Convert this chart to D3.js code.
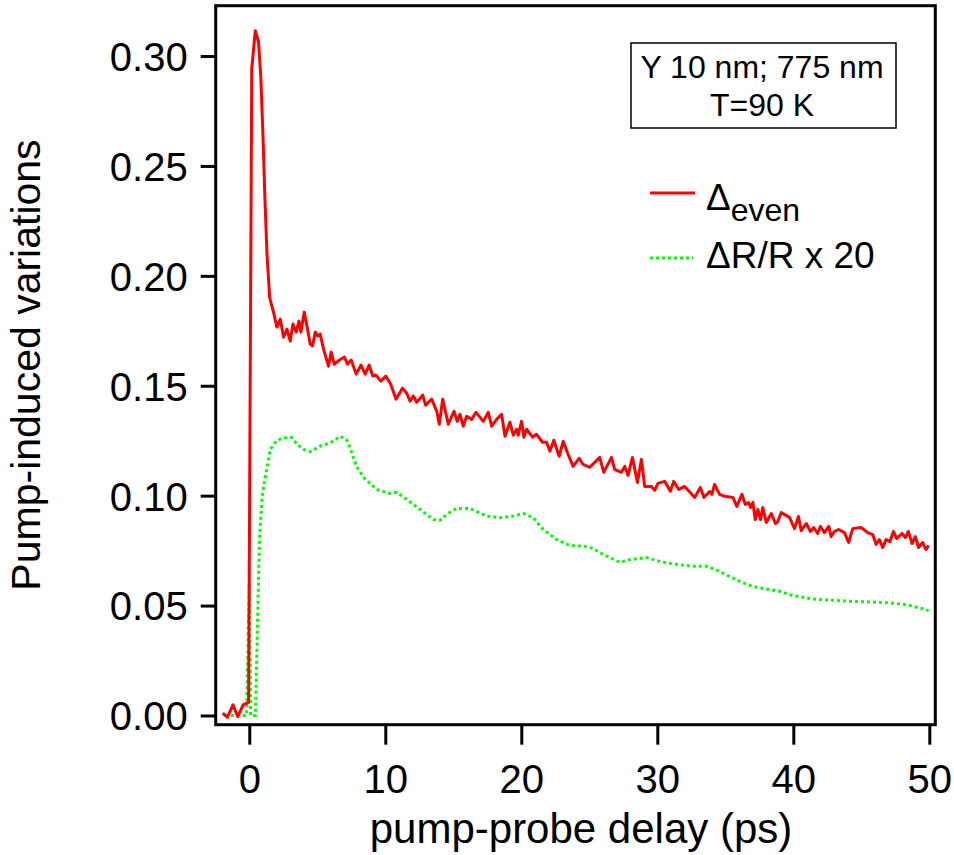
<!DOCTYPE html>
<html>
<head>
<meta charset="utf-8">
<script src="https://cdn.jsdelivr.net/npm/d3@7"></script>
<style>
  body { margin: 0; background: #fff; }
  svg text { font-family: "Liberation Sans", Arial, sans-serif; fill: #000; }
</style>
</head>
<body>
<div id="vis"></div>
<script>
const W = 954, H = 855;
const frame = {left: 215.7, right: 935.3, top: 5.7, bottom: 724.7};

// delta_even (red), delay in ps
const evenDelay = [-1.95, -1.6, -1.2, -0.85, -0.45, -0.05, 0.18, 0.44, 0.68, 0.85, 1.0, 1.15, 1.3, 1.5, 1.78, 2.03,
  2.28, 2.52, 2.77, 3.01, 3.21, 3.45, 3.65, 3.80, 4.04, 4.24, 4.48, 4.65, 4.85, 5.04, 5.21, 5.46, 5.82, 6.02, 6.24,
  6.63, 7.00, 7.22, 7.49, 7.86, 8.22, 8.52, 8.81, 9.08, 9.30, 9.67, 10.04, 10.40, 10.79, 11.26, 11.58, 11.82, 12.06,
  12.31, 12.75, 12.97, 13.41, 13.78, 13.97, 14.22, 14.63, 15.05, 15.29, 15.49, 15.73, 15.98, 16.35, 16.67, 17.20,
  17.57, 17.82, 18.19, 18.55, 18.80, 19.16, 19.41, 19.65, 19.77, 20.02, 20.19, 20.39, 20.83, 21.12, 21.56, 21.86,
  22.10, 22.39, 22.78, 23.08, 23.44, 23.81, 24.25, 24.54, 25.04, 25.77, 26.06, 26.63, 26.87, 27.36, 27.61, 27.85,
  28.17, 28.54, 28.83, 29.07, 29.57, 29.81, 30.05, 30.54, 30.96, 31.20, 31.57, 32.01, 32.75, 33.16, 33.43, 33.85,
  34.02, 34.21, 34.58, 34.95, 35.56, 35.85, 36.22, 36.47, 36.71, 36.86, 37.03, 37.20, 37.39, 37.59, 37.76, 38.01,
  38.38, 38.69, 38.86, 39.11, 39.72, 40.09, 40.38, 40.58, 40.95, 41.26, 41.50, 41.79, 41.99, 42.29, 42.61, 42.78,
  43.02, 43.32, 43.76, 44.07, 44.37, 44.98, 45.47, 45.84, 46.09, 46.33, 46.57, 46.82, 47.11, 47.36, 47.60, 47.99,
  48.24, 48.46, 48.73, 48.97, 49.21, 49.51, 49.76, 49.95];
const evenValue = [0.001, -0.0008, 0.0048, -0.0005, 0.0048, 0.006, 0.294, 0.3115, 0.3065, 0.29, 0.265, 0.235, 0.21, 0.19, 0.1835, 0.1767,
  0.1803, 0.1721, 0.1758, 0.1703, 0.1781, 0.1744, 0.1794, 0.1744, 0.1835, 0.1772, 0.1690, 0.1681, 0.1744, 0.1726, 0.1735, 0.1667, 0.1589, 0.1653, 0.1598,
  0.1617, 0.1630, 0.1598, 0.1617, 0.1553, 0.1594, 0.1553, 0.1594, 0.1544, 0.1549, 0.1521, 0.1544, 0.1507, 0.1439, 0.1489, 0.1466, 0.1430, 0.1453,
  0.1425, 0.1457, 0.1411, 0.1439, 0.1384, 0.1325, 0.1439, 0.1325, 0.1384, 0.1338, 0.1370, 0.1316, 0.1361, 0.1347, 0.1379, 0.1338,
  0.1379, 0.1316, 0.1347, 0.1370, 0.1270, 0.1334, 0.1275, 0.1302, 0.1275, 0.1338, 0.1266, 0.1302, 0.1266, 0.1279, 0.1243, 0.1243,
  0.1202, 0.1252, 0.1179, 0.1247, 0.1188, 0.1133, 0.1170, 0.1142, 0.1129, 0.1174, 0.1106, 0.1174, 0.1119, 0.1106, 0.1133, 0.1092,
  0.1174, 0.1060, 0.1165, 0.1042, 0.1042, 0.1024, 0.1056, 0.1065, 0.1020, 0.1065, 0.1028, 0.1042, 0.0992, 0.1037, 0.0992, 0.1019,
  0.1006, 0.1051, 0.1006, 0.0997, 0.0992, 0.0951, 0.1006, 0.0960, 0.0969, 0.0946, 0.0969, 0.0891, 0.0937, 0.0891, 0.0946, 0.0878,
  0.0919, 0.0873, 0.0882, 0.0923, 0.0901, 0.0850, 0.0905, 0.0841, 0.0873, 0.0837, 0.0855, 0.0828, 0.0860, 0.0832, 0.0860, 0.0814,
  0.0837, 0.0846, 0.0832, 0.0787, 0.0850, 0.0855, 0.0832, 0.0823, 0.0778, 0.0800, 0.0764, 0.0800, 0.0791, 0.0837, 0.0805, 0.0828,
  0.0809, 0.0837, 0.0782, 0.0814, 0.0764, 0.0787, 0.0755, 0.0773];

// dR/R x 20 (green dotted)
const rrDelay = [-1.8, -0.2, 0.0, 0.1, 0.45, 0.6, 0.75, 0.95, 1.17, 1.54, 2.0, 2.5, 3.1, 3.5, 4.0, 4.5, 5.2, 5.95, 6.7, 7.17,
  7.45, 7.9, 8.45, 9.38, 10.3, 10.85, 11.57, 12.55, 13.54, 14.02, 14.5, 15.23, 16.2, 17.45, 18.43, 19.4, 20.14, 20.87,
  21.6, 22.6, 23.57, 24.55, 25.28, 25.77, 26.5, 27.24, 27.97, 29.2, 30.4, 31.6, 32.6, 33.6, 34.3, 35.3, 36.05, 37.0,
  38.0, 38.98, 39.96, 41.4, 42.9, 44.4, 45.8, 47.06, 48.3, 49.3, 49.95];
const rrValue = [0, 0, 0.06, 0, 0, 0.04, 0.08, 0.1, 0.108, 0.121, 0.125, 0.1262, 0.1265, 0.1234, 0.121, 0.120, 0.1225, 0.124, 0.127, 0.1252,
  0.121, 0.113, 0.108, 0.1028, 0.101, 0.1015, 0.0983, 0.0937, 0.0891, 0.0888, 0.0914, 0.0942, 0.0942, 0.0907, 0.0900, 0.0907, 0.0919, 0.0900,
  0.0846, 0.0800, 0.0773, 0.0770, 0.0760, 0.0741, 0.0718, 0.0697, 0.0709, 0.0718, 0.0697, 0.0686, 0.0679, 0.0679, 0.0663, 0.0633, 0.0610, 0.0587,
  0.0575, 0.0565, 0.0545, 0.0530, 0.0524, 0.0519, 0.0516, 0.0512, 0.0504, 0.0489, 0.0477];

const xTicks = [0, 10, 20, 30, 40, 50];
const yTicks = [0, 0.05, 0.10, 0.15, 0.20, 0.25, 0.30];
const infoLines = ["Y 10 nm; 775 nm", "T=90 K"];

const svg = d3.select('#vis').append('svg')
    .attr('width', W)
    .attr('height', H);

const x = d3.scaleLinear().domain([-2.47, 50.44]).range([frame.left, frame.right]);
const y = d3.scaleLinear().domain([-0.0042, 0.3229]).range([frame.bottom, frame.top]);

// axes
const xAxis = svg.append('g')
    .attr('transform', `translate(0,${frame.bottom})`)
    .call(d3.axisBottom(x).tickValues(xTicks).tickSize(20).tickPadding(20).tickFormat(d3.format('d')));
const yAxis = svg.append('g')
    .attr('transform', `translate(${frame.left},0)`)
    .call(d3.axisLeft(y).tickValues(yTicks).tickSize(15).tickPadding(13).tickFormat(d3.format('.2f')));

[xAxis, yAxis].forEach(g => {
    g.select('.domain').remove();
    g.selectAll('.tick line').attr('stroke', '#000').attr('stroke-width', 3);
    g.selectAll('.tick text').style('font-size', '40px').attr('fill', '#000');
});
yAxis.selectAll('.tick text').attr('dy', '0.36em');
xAxis.selectAll('.tick text').attr('dy', '0.72em');

// curves
const line = d3.line().x(d => x(d[0])).y(d => y(d[1]));
const rrData = rrDelay.map((d, i) => [d, rrValue[i]]);
const evenData = evenDelay.map((d, i) => [d, evenValue[i]]);

svg.append('path')
    .datum(rrData)
    .attr('d', line)
    .attr('fill', 'none')
    .attr('stroke', '#00ff00')
    .attr('stroke-width', 3)
    .attr('stroke-dasharray', '3,3');

svg.append('path')
    .datum(evenData)
    .attr('d', line)
    .attr('fill', 'none')
    .attr('stroke', '#ff0000')
    .attr('stroke-width', 3)
    .attr('stroke-linejoin', 'round');

// plot frame
svg.append('rect')
    .attr('x', frame.left).attr('y', frame.top)
    .attr('width', frame.right - frame.left)
    .attr('height', frame.bottom - frame.top)
    .attr('fill', 'none')
    .attr('stroke', '#000')
    .attr('stroke-width', 3);

// axis titles
svg.append('text')
    .attr('x', 581).attr('y', 843)
    .attr('text-anchor', 'middle')
    .style('font-size', '42px')
    .text('pump-probe delay (ps)');

svg.append('text')
    .attr('transform', 'translate(40,365) rotate(-90)')
    .attr('text-anchor', 'middle')
    .style('font-size', '41px')
    .text('Pump-induced variations');

// info box
svg.append('rect')
    .attr('x', 631).attr('y', 43)
    .attr('width', 265).attr('height', 85)
    .attr('fill', '#fff')
    .attr('stroke', '#000')
    .attr('stroke-width', 1.5);

svg.selectAll('.info')
    .data(infoLines)
    .enter()
    .append('text')
    .attr('class', 'info')
    .attr('x', 762)
    .attr('y', (d, i) => 78 + i * 38)
    .attr('text-anchor', 'middle')
    .style('font-size', '32px')
    .text(d => d);

// legend
const legend = svg.append('g');
legend.append('line')
    .attr('x1', 650).attr('x2', 695).attr('y1', 193).attr('y2', 193)
    .attr('stroke', '#ff0000').attr('stroke-width', 3);
const evenLabel = legend.append('text')
    .attr('x', 706).attr('y', 210)
    .style('font-size', '37px');
evenLabel.append('tspan').text('Δ');
evenLabel.append('tspan').attr('dy', 11).style('font-size', '32px').text('even');

legend.append('line')
    .attr('x1', 650).attr('x2', 693).attr('y1', 258).attr('y2', 258)
    .attr('stroke', '#00ff00').attr('stroke-width', 3)
    .attr('stroke-dasharray', '3,3');
legend.append('text')
    .attr('x', 706).attr('y', 268)
    .style('font-size', '37px')
    .text('ΔR/R x 20');
</script>
</body>
</html>
